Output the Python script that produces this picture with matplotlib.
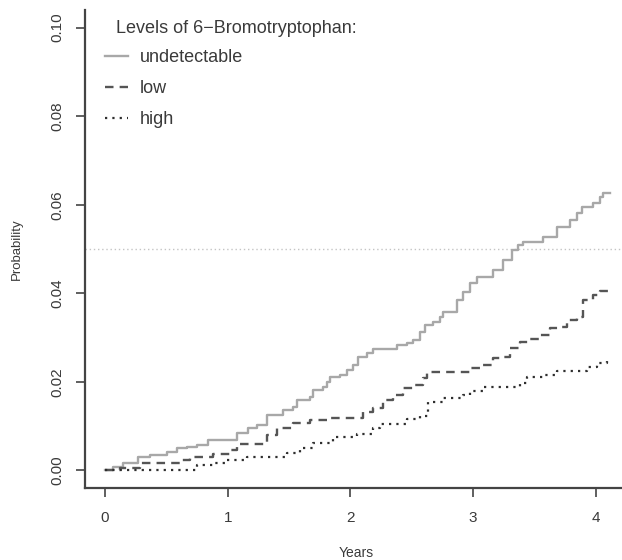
import matplotlib

matplotlib.use("Agg")
import matplotlib.pyplot as plt

plt.rcParams["font.family"] = ["Liberation Sans", "DejaVu Sans"]

# cumulative probability step curves
undet_t = [0.0, 0.065, 0.147, 0.269, 0.367, 0.505, 0.587, 0.668, 0.750, 0.839,
           1.075, 1.165, 1.238, 1.320, 1.450, 1.532, 1.564, 1.670, 1.695, 1.776,
           1.809, 1.833, 1.914, 1.971, 2.020, 2.061, 2.134, 2.183, 2.379, 2.460,
           2.509, 2.566, 2.607, 2.672, 2.729, 2.754, 2.868, 2.916, 2.974, 3.031,
           3.161, 3.242, 3.316, 3.365, 3.405, 3.568, 3.682, 3.788, 3.845, 3.886,
           3.976, 4.033, 4.057, 4.114]
undet_p = [0.0, 0.0007, 0.0016, 0.0029, 0.0034, 0.0041, 0.0050, 0.0052, 0.0057, 0.0068,
           0.0084, 0.0095, 0.0102, 0.0125, 0.0136, 0.0143, 0.0158, 0.0165, 0.0181, 0.0188,
           0.0199, 0.0211, 0.0215, 0.0226, 0.0238, 0.0256, 0.0265, 0.0274, 0.0283, 0.0288,
           0.0294, 0.0312, 0.0328, 0.0335, 0.0346, 0.0358, 0.0385, 0.0403, 0.0423, 0.0437,
           0.0453, 0.0475, 0.0498, 0.0509, 0.0516, 0.0527, 0.0550, 0.0566, 0.0582, 0.0595,
           0.0604, 0.0618, 0.0627, 0.0627]

low_t = [0.0, 0.122, 0.285, 0.611, 0.692, 0.880, 1.018, 1.075, 1.320, 1.401,
         1.532, 1.670, 1.809, 2.102, 2.183, 2.265, 2.346, 2.428, 2.509, 2.591,
         2.623, 2.974, 3.079, 3.161, 3.242, 3.299, 3.381, 3.462, 3.544, 3.625,
         3.707, 3.764, 3.845, 3.894, 3.976, 4.033, 4.098]
low_p = [0.0, 0.0005, 0.0016, 0.0023, 0.0029, 0.0036, 0.0045, 0.0059, 0.0079, 0.0095,
         0.0106, 0.0113, 0.0118, 0.0131, 0.0140, 0.0158, 0.0170, 0.0186, 0.0192, 0.0208,
         0.0222, 0.0231, 0.0238, 0.0254, 0.0256, 0.0276, 0.0290, 0.0297, 0.0306, 0.0321,
         0.0324, 0.0340, 0.0346, 0.0385, 0.0396, 0.0405, 0.0405]

high_t = [0.0, 0.750, 0.880, 0.994, 1.157, 1.483, 1.589, 1.695, 1.857, 2.053,
          2.183, 2.240, 2.460, 2.566, 2.631, 2.754, 2.916, 2.974, 3.079, 3.381,
          3.438, 3.568, 3.682, 3.927, 4.008, 4.090]
high_p = [0.0, 0.0011, 0.0016, 0.0023, 0.0029, 0.0038, 0.0050, 0.0061, 0.0075, 0.0082,
          0.0095, 0.0104, 0.0115, 0.0122, 0.0154, 0.0163, 0.0170, 0.0179, 0.0188, 0.0197,
          0.0211, 0.0215, 0.0224, 0.0233, 0.0242, 0.0256]

ref_level = 0.05
x_ticks = [0, 1, 2, 3, 4]
y_ticks = [0.0, 0.02, 0.04, 0.06, 0.08, 0.10]
y_ticklabels = ["0.00", "0.02", "0.04", "0.06", "0.08", "0.10"]
legend_title = "Levels of 6\u2212Bromotryptophan:"
labels = ["undetectable", "low", "high"]

ink = "#3a3a3a"

fig = plt.figure(figsize=(6.22, 5.6), dpi=100)
ax = fig.add_axes([0.1365, 0.1286, 0.8732, 0.8536])

ax.axhline(ref_level, color="#c4c4c4", lw=1.0, ls=(0, (1, 2)))

l1, = ax.step(undet_t, undet_p, where="post", color="#a8a8a8", lw=1.7)
l2, = ax.step(low_t, low_p, where="post", color="#555555", lw=1.7,
              ls=(0, (3.6, 2.6)))
l3, = ax.step(high_t, high_p, where="post", color="#2e2e2e", lw=1.6,
              ls=(0, (1, 2.3)))

ax.set_xlim(-0.164, 4.264)
ax.set_ylim(-0.004, 0.104)

for side in ("top", "right"):
    ax.spines[side].set_visible(False)
for side in ("left", "bottom"):
    ax.spines[side].set_color("#444444")
    ax.spines[side].set_linewidth(1.6)

ax.set_xticks(x_ticks)
ax.set_yticks(y_ticks)
ax.set_yticklabels(y_ticklabels, rotation=90, va="center")
ax.tick_params(axis="both", length=6.5, width=1.2, color="#444444",
               labelcolor=ink, labelsize=11)
ax.tick_params(axis="x", pad=10)
ax.tick_params(axis="y", pad=8)

ax.set_xlabel("Years", fontsize=10, color=ink, labelpad=15)
ax.set_ylabel("Probability", fontsize=9.5, color=ink, labelpad=20)

ax.text(0.0576, 0.962, legend_title, transform=ax.transAxes, fontsize=13,
        color=ink, ha="left", va="center")
leg = ax.legend([l1, l2, l3], labels, loc="upper left",
                bbox_to_anchor=(0.037, 0.918), frameon=False, fontsize=13,
                handlelength=1.3, handletextpad=0.65, labelspacing=0.78,
                borderpad=0, borderaxespad=0)
for txt in leg.get_texts():
    txt.set_color(ink)

fig.savefig("out.png", dpi=100)
